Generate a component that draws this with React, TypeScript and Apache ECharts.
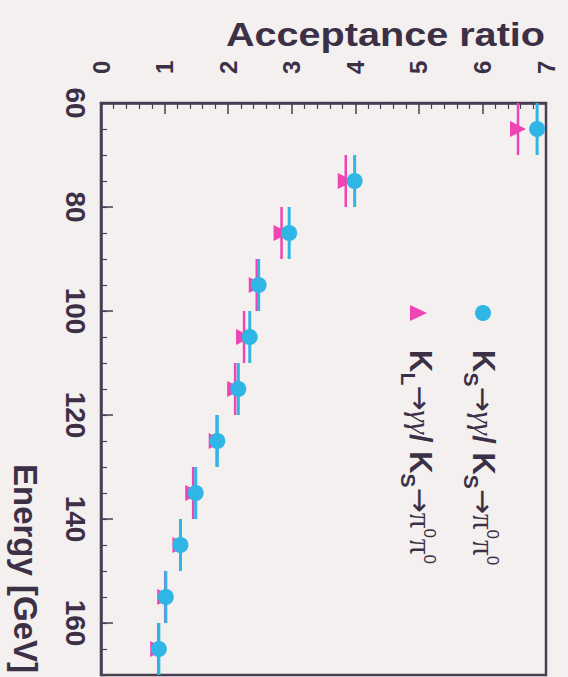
import React, { useEffect, useRef } from 'react';
import * as echarts from 'echarts';

// Bin centres (Energy, GeV) and bin edges used as horizontal error bars
const energies = [65, 75, 85, 95, 105, 115, 125, 135, 145, 155, 165];
const energyBinLow = [60, 70, 80, 90, 100, 110, 120, 130, 140, 150, 160];
const energyBinHigh = [70, 80, 90, 100, 110, 120, 130, 140, 150, 160, 170];

// Acceptance ratios
const ksRatio = [6.86, 3.99, 2.96, 2.48, 2.34, 2.16, 1.83, 1.49, 1.25, 1.02, 0.91];
const klRatio = [6.56, 3.85, 2.84, 2.45, 2.25, 2.11, 1.82, 1.45, 1.25, 1.01, 0.9];

const ratioMin = 0;
const ratioMax = 7;
const energyMin = 60;
const energyMax = 170;

const BG = '#f4f0ef';
const FRAME = '#4a3e55';
const TEXT = '#3b3046';
const BLUE = '#2fb6e6';
const PINK = '#ef45b4';
const SANS = '"Liberation Sans", Arial, Helvetica, sans-serif';
const SERIF = '"Liberation Serif", "DejaVu Serif", serif';

function errorBarSeries(name: string, ratios: number[], color: string, width: number) {
  return {
    type: 'custom',
    name,
    xAxisIndex: 0,
    yAxisIndex: 0,
    silent: true,
    encode: { x: 0, y: [1, 2] },
    data: ratios.map((r, i) => [r, energyBinLow[i], energyBinHigh[i]]),
    renderItem: (params: any, api: any) => {
      const a = api.coord([api.value(0), api.value(1)]);
      const b = api.coord([api.value(0), api.value(2)]);
      return {
        type: 'line',
        shape: { x1: a[0], y1: a[1], x2: b[0], y2: b[1] },
        style: { stroke: color, lineWidth: width },
      };
    },
  };
}

function legendText(sub: string) {
  return `{k|K}{s|${sub}}{a|→}{g|γγ}{k|/ K}{s|S}{a|→}{p|π}{u|0}{p|π}{u|0}`;
}

const legendRich = {
  k: { fontSize: 31, fontFamily: SANS, fontWeight: 'bold', lineHeight: 44, fill: TEXT },
  s: { fontSize: 21, fontFamily: SANS, fontWeight: 'bold', lineHeight: 14, verticalAlign: 'bottom', fill: TEXT },
  a: { fontSize: 30, fontFamily: '"DejaVu Sans", sans-serif', lineHeight: 44, fill: TEXT },
  g: { fontSize: 30, fontFamily: SERIF, fontStyle: 'italic', lineHeight: 44, fill: TEXT },
  p: { fontSize: 31, fontFamily: SERIF, lineHeight: 44, fill: TEXT },
  u: { fontSize: 17, fontFamily: SANS, verticalAlign: 'top', padding: [4, 1, 0, 0], fill: TEXT },
};

export default function App() {
  const ref = useRef<HTMLDivElement>(null);

  useEffect(() => {
    document.body.style.margin = '0';
    const chart = echarts.init(ref.current!, null, { renderer: 'svg' });
    const option: any = {
      animation: false,
      backgroundColor: BG,
      grid: {
        left: 101,
        right: 22,
        top: 103,
        bottom: 2,
        show: true,
        borderColor: FRAME,
        borderWidth: 2.5,
        backgroundColor: 'transparent',
        containLabel: false,
      },
      xAxis: [
        {
          type: 'value',
          position: 'top',
          min: ratioMin,
          max: ratioMax,
          interval: 1,
          axisLine: { show: true, lineStyle: { color: FRAME, width: 2.5 } },
          axisTick: { show: true, inside: true, length: 11, lineStyle: { color: FRAME, width: 1.5 } },
          minorTick: { show: true, splitNumber: 5, length: 6, lineStyle: { color: FRAME, width: 1.2 } },
          splitLine: { show: false },
          axisLabel: {
            rotate: -90,
            margin: 29,
            fontSize: 24,
            fontWeight: 'bold',
            fontFamily: SANS,
            color: TEXT,
          },
        },
      ],
      yAxis: [
        {
          type: 'value',
          position: 'left',
          inverse: true,
          min: energyMin,
          max: energyMax,
          interval: 20,
          axisLine: { show: true, lineStyle: { color: FRAME, width: 2.5 } },
          axisTick: { show: true, inside: true, length: 12, lineStyle: { color: FRAME, width: 1.5 } },
          splitLine: { show: false },
          axisLabel: {
            rotate: -90,
            margin: 12,
            fontSize: 28,
            fontWeight: 'bold',
            fontFamily: SANS,
            color: TEXT,
            showMaxLabel: false,
          },
        },
        {
          type: 'value',
          position: 'left',
          inverse: true,
          min: energyMin,
          max: energyMax,
          interval: 5,
          axisLine: { show: false },
          axisTick: { show: true, inside: true, length: 6, lineStyle: { color: FRAME, width: 1.2 } },
          splitLine: { show: false },
          axisLabel: { show: false },
        },
      ],
      graphic: [
        {
          type: 'text',
          x: 545,
          y: 35,
          scaleX: 1.2,
          style: {
            text: 'Acceptance ratio',
            fontSize: 33,
            fontWeight: 'bold',
            fontFamily: SANS,
            fill: TEXT,
            align: 'right',
            verticalAlign: 'middle',
            textAlign: 'right',
            textVerticalAlign: 'middle',
          },
        },
        {
          type: 'text',
          x: 25,
          y: 464,
          rotation: -Math.PI / 2,
          style: {
            text: 'Energy [GeV]',
            fontSize: 33,
            fontWeight: 'bold',
            fontFamily: SANS,
            fill: TEXT,
            align: 'left',
            verticalAlign: 'middle',
            textAlign: 'left',
            textVerticalAlign: 'middle',
          },
        },
        {
          type: 'circle',
          shape: { cx: 483, cy: 313, r: 8 },
          style: { fill: BLUE },
        },
        {
          type: 'polygon',
          shape: { points: [[410, 305], [427, 313], [410, 321]] },
          style: { fill: PINK },
        },
        {
          type: 'text',
          x: 483,
          y: 350,
          rotation: -Math.PI / 2,
          style: {
            text: legendText('S'),
            rich: legendRich,
            fill: TEXT,
            align: 'left',
            verticalAlign: 'middle',
            textAlign: 'left',
            textVerticalAlign: 'middle',
          },
        },
        {
          type: 'text',
          x: 420,
          y: 350,
          rotation: -Math.PI / 2,
          style: {
            text: legendText('L'),
            rich: legendRich,
            fill: TEXT,
            align: 'left',
            verticalAlign: 'middle',
            textAlign: 'left',
            textVerticalAlign: 'middle',
          },
        },
      ],
      series: [
        errorBarSeries('KL err', klRatio, PINK, 2.5),
        {
          type: 'scatter',
          name: 'K_L→γγ / K_S→π0π0',
          xAxisIndex: 0,
          yAxisIndex: 0,
          symbol: 'triangle',
          symbolRotate: -90,
          symbolSize: [16, 16],
          itemStyle: { color: PINK, opacity: 1 },
          data: klRatio.map((r, i) => [r, energies[i]]),
        },
        errorBarSeries('KS err', ksRatio, BLUE, 3),
        {
          type: 'scatter',
          name: 'K_S→γγ / K_S→π0π0',
          xAxisIndex: 0,
          yAxisIndex: 0,
          symbol: 'circle',
          symbolSize: 16,
          itemStyle: { color: BLUE, opacity: 1 },
          data: ksRatio.map((r, i) => [r, energies[i]]),
        },
      ],
    };
    chart.setOption(option);
    return () => chart.dispose();
  }, []);

  return (
    <div
      ref={ref}
      style={{ position: 'fixed', left: 0, top: 0, width: 568, height: 677, background: BG }}
    />
  );
}
